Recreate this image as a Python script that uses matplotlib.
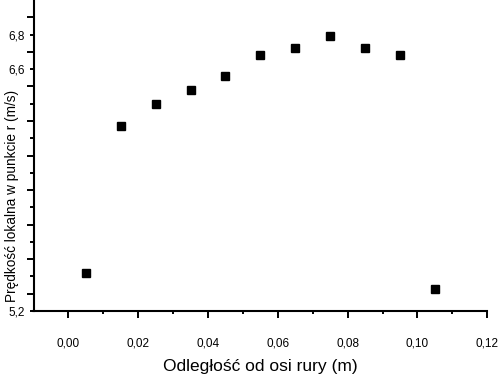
import matplotlib
matplotlib.use("Agg")
import matplotlib.pyplot as plt
from matplotlib.ticker import FixedLocator

# pomiar predkosci lokalnej wzdluz promienia rury
odleglosc = [0.005, 0.015, 0.025, 0.035, 0.045, 0.055, 0.065, 0.075, 0.085, 0.095, 0.105]
predkosc = [5.42, 6.27, 6.40, 6.48, 6.56, 6.68, 6.72, 6.79, 6.72, 6.68, 5.33]

x_ticks = [0.00, 0.02, 0.04, 0.06, 0.08, 0.10, 0.12]
x_tick_labels = ["0,00", "0,02", "0,04", "0,06", "0,08", "0,10", "0,12"]
x_minor = [0.01, 0.03, 0.05, 0.07, 0.09, 0.11]
y_ticks = [5.2, 5.4, 5.6, 5.8, 6.0, 6.2, 6.4, 6.6, 6.8]
y_tick_labels = ["5,2", "", "", "", "", "", "", "6,6", "6,8"]
y_minor = [5.3, 5.5, 5.7, 5.9, 6.1, 6.3, 6.5, 6.7, 6.9]

plt.rcParams["font.family"] = ["Liberation Sans", "DejaVu Sans"]

fig = plt.figure(figsize=(5.01, 3.81), dpi=100)
ax = fig.add_axes([33.5 / 501, 1 - 311 / 381, (487.3 - 33.5) / 501, 311 / 381])

ax.plot(odleglosc, predkosc, "s", color="black", markersize=5.8, clip_on=False)

ax.set_xlim(-0.01, 0.12)
ax.set_ylim(5.2, 7.0)

ax.spines["top"].set_visible(False)
ax.spines["right"].set_visible(False)
ax.spines["left"].set_linewidth(1.5)
ax.spines["bottom"].set_linewidth(1.5)

ax.xaxis.set_major_locator(FixedLocator(x_ticks))
ax.xaxis.set_minor_locator(FixedLocator(x_minor))
ax.set_xticklabels(x_tick_labels)
ax.yaxis.set_major_locator(FixedLocator(y_ticks))
ax.yaxis.set_minor_locator(FixedLocator(y_minor))
ax.set_yticklabels(y_tick_labels)

ax.tick_params(axis="x", which="major", direction="out", length=5, width=1.4, pad=14, labelsize=8.5)
ax.tick_params(axis="x", which="minor", direction="out", length=2.4, width=1.4)
ax.tick_params(axis="y", which="major", direction="out", length=2.9, width=1.4, pad=3.5, labelsize=8.5)
ax.tick_params(axis="y", which="minor", direction="out", length=5.3, width=1.4)

ax.set_xlabel("Odległość od osi rury (m)", fontsize=12.5)
ax.xaxis.set_label_coords((260 - 33.5) / 453.8, -(367 - 311) / 311)
ax.set_ylabel("Prędkość lokalna w punkcie r (m/s)", fontsize=9.8)
ax.yaxis.set_label_coords(-(33.5 - 12.5) / 453.8, (311 - 196) / 311)
ax.xaxis.label.set_va("center")
ax.yaxis.label.set_va("center")

fig.savefig("out.png", dpi=100)
